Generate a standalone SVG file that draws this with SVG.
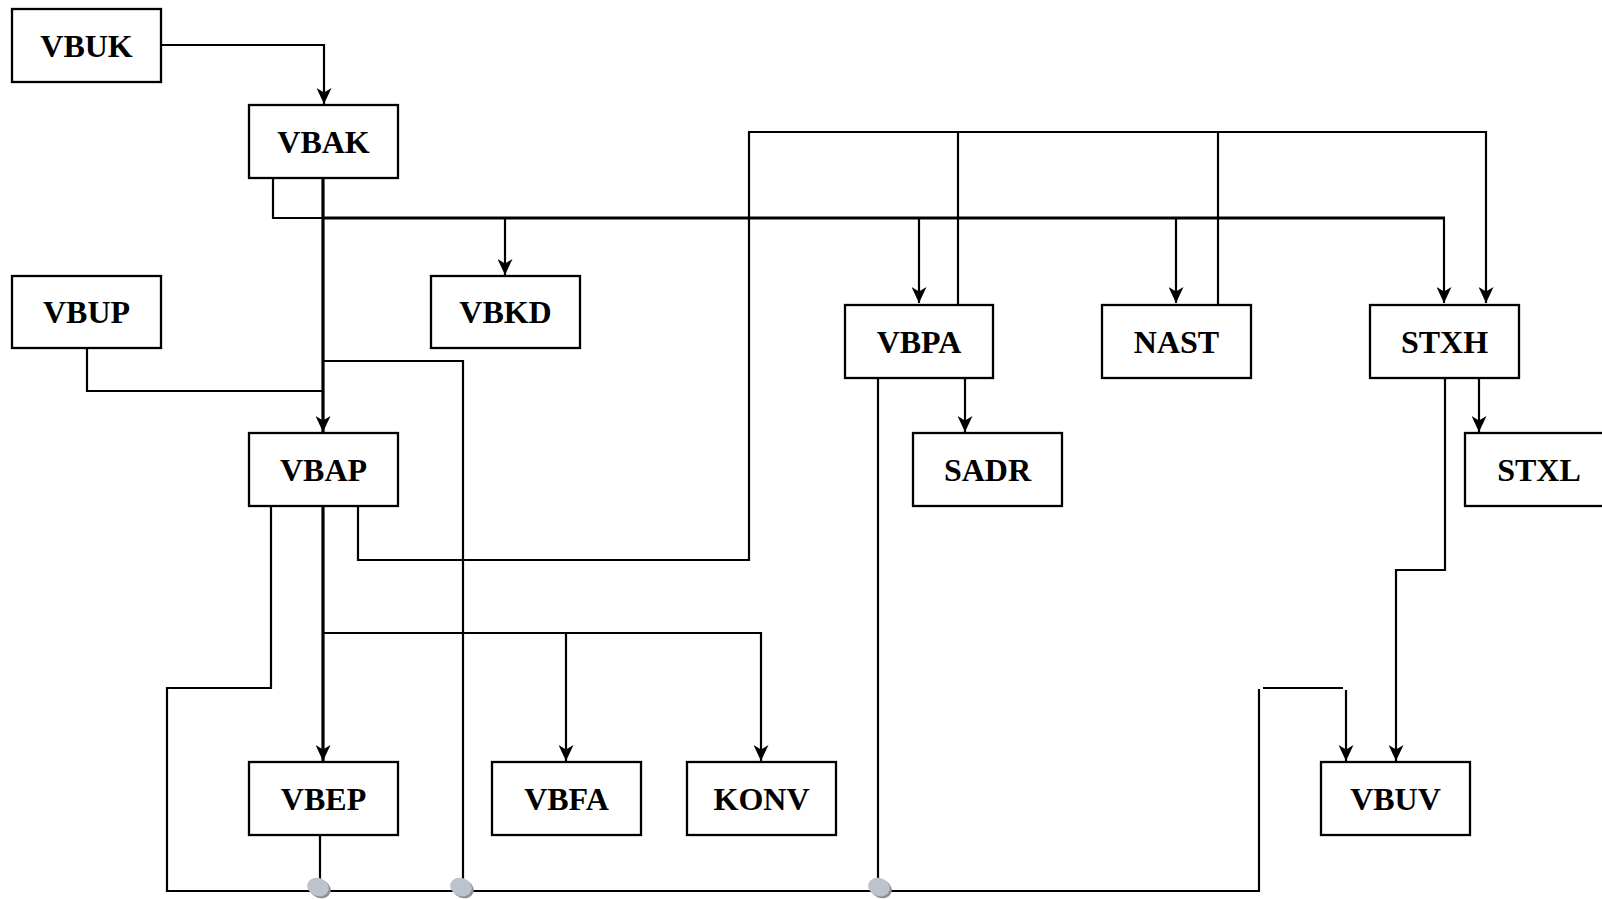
<svg xmlns="http://www.w3.org/2000/svg" width="1602" height="899" viewBox="0 0 1602 899">
<defs>
<style>
.box{fill:#fff;stroke:#000;stroke-width:2.3}
.lbl{font-family:"Liberation Serif","Times New Roman",serif;font-weight:bold;font-size:32px;text-anchor:middle;fill:#000}
.c{fill:none;stroke:#000;stroke-width:2.2}
.t{fill:none;stroke:#000;stroke-width:3.2}
.a{marker-end:url(#arr)}
</style>
<marker id="arr" viewBox="0 0 16 15" refX="16" refY="7.5" markerWidth="16" markerHeight="15" orient="auto" markerUnits="userSpaceOnUse">
<path d="M0,0 L16,7.5 L0,15 L4.5,7.5 z" fill="#000"/>
</marker>
</defs>
<rect width="1602" height="899" fill="#fff"/>
<g id="connectors">
<path class="c a" d="M160,45 H324 V104"/>
<path class="t a" d="M323,178 V432"/>
<path class="c" d="M273,178 V218 H323"/>
<path class="t" d="M323,218 H1445"/>
<path class="c a" d="M1444,218 V303"/>
<path class="c a" d="M505,218 V275"/>
<path class="c a" d="M919,218 V303"/>
<path class="c a" d="M1176,218 V303"/>
<path class="c" d="M87,348 V391 H323"/>
<path class="c" d="M323,361 H463 V882"/>
<path class="c a" d="M358,506 V560 H749 V132 H1486 V303"/>
<path class="c" d="M958,304 V132"/>
<path class="c" d="M1218,304 V132"/>
<path class="c" d="M271,506 V688 H167 V891 H1259 V689"/>
<path class="t a" d="M323,506 V761"/>
<path class="c a" d="M323,633 H761 V761"/>
<path class="c a" d="M566,633 V761"/>
<path class="c" d="M320,835 V880"/>
<path class="c" d="M878,378 V880"/>
<path class="c a" d="M965,378 V432"/>
<path class="c" d="M1263,688 H1343"/>
<path class="c a" d="M1346,690 V761"/>
<path class="c a" d="M1445,378 V570 H1396 V761"/>
<path class="c a" d="M1479,378 V432"/>
<g id="junctions">
<ellipse cx="320" cy="889" rx="11" ry="9" fill="#8a929e" transform="rotate(20 320 889)"/>
<ellipse cx="318" cy="887" rx="11" ry="9" fill="#bcc3ce" transform="rotate(20 318 887)"/>
<ellipse cx="463" cy="889" rx="11" ry="9" fill="#8a929e" transform="rotate(20 463 889)"/>
<ellipse cx="461" cy="887" rx="11" ry="9" fill="#bcc3ce" transform="rotate(20 461 887)"/>
<ellipse cx="881" cy="889" rx="11" ry="9" fill="#8a929e" transform="rotate(20 881 889)"/>
<ellipse cx="879" cy="887" rx="11" ry="9" fill="#bcc3ce" transform="rotate(20 879 887)"/>
</g>
</g>
<g id="VBUK"><rect class="box" x="12" y="9" width="149" height="73"/><text class="lbl" x="86.5" y="57">VBUK</text></g>
<g id="VBAK"><rect class="box" x="249" y="105" width="149" height="73"/><text class="lbl" x="323.5" y="153">VBAK</text></g>
<g id="VBUP"><rect class="box" x="12" y="276" width="149" height="72"/><text class="lbl" x="86.5" y="323">VBUP</text></g>
<g id="VBKD"><rect class="box" x="431" y="276" width="149" height="72"/><text class="lbl" x="505.5" y="323">VBKD</text></g>
<g id="VBPA"><rect class="box" x="845" y="305" width="148" height="73"/><text class="lbl" x="919" y="353">VBPA</text></g>
<g id="NAST"><rect class="box" x="1102" y="305" width="149" height="73"/><text class="lbl" x="1176.5" y="353">NAST</text></g>
<g id="STXH"><rect class="box" x="1370" y="305" width="149" height="73"/><text class="lbl" x="1444.5" y="353">STXH</text></g>
<g id="VBAP"><rect class="box" x="249" y="433" width="149" height="73"/><text class="lbl" x="323.5" y="481">VBAP</text></g>
<g id="SADR"><rect class="box" x="913" y="433" width="149" height="73"/><text class="lbl" x="987.5" y="481">SADR</text></g>
<g id="STXL"><rect class="box" x="1465" y="433" width="149" height="73"/><text class="lbl" x="1539" y="481">STXL</text></g>
<g id="VBEP"><rect class="box" x="249" y="762" width="149" height="73"/><text class="lbl" x="323.5" y="810">VBEP</text></g>
<g id="VBFA"><rect class="box" x="492" y="762" width="149" height="73"/><text class="lbl" x="566.5" y="810">VBFA</text></g>
<g id="KONV"><rect class="box" x="687" y="762" width="149" height="73"/><text class="lbl" x="761.5" y="810">KONV</text></g>
<g id="VBUV"><rect class="box" x="1321" y="762" width="149" height="73"/><text class="lbl" x="1395.5" y="810">VBUV</text></g>
</svg>
